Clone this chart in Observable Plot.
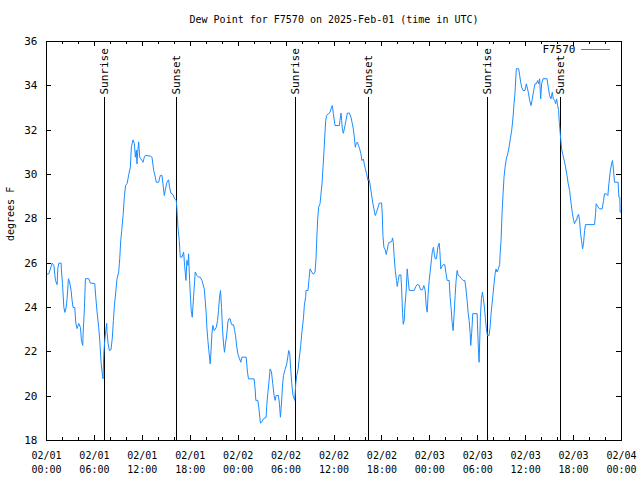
<!DOCTYPE html>
<html>
<head>
<meta charset="utf-8">
<script src="https://cdn.jsdelivr.net/npm/d3@7"></script>
<script src="https://cdn.jsdelivr.net/npm/@observablehq/plot@0.6"></script>
<style>
  body { margin: 0; background: #fff; }
  #chart svg { display: block; }
</style>
</head>
<body>
<div id="chart"></div>
<script>
// ---- text ----
const title = "Dew Point for F7570 on 2025-Feb-01 (time in UTC)";
const yLabel = "degrees F";
const seriesName = "F7570";

// ---- time axis ----
const startTime = "2025-02-01T00:00:00Z";
const endTime = "2025-02-04T00:00:00Z";
const xTicks = ["2025-02-01T00:00Z","2025-02-01T06:00Z","2025-02-01T12:00Z","2025-02-01T18:00Z",
  "2025-02-02T00:00Z","2025-02-02T06:00Z","2025-02-02T12:00Z","2025-02-02T18:00Z",
  "2025-02-03T00:00Z","2025-02-03T06:00Z","2025-02-03T12:00Z","2025-02-03T18:00Z","2025-02-04T00:00Z"];
const yTicks = [18, 20, 22, 24, 26, 28, 30, 32, 34, 36];

// ---- sunrise / sunset ----
const eventNames = ["Sunrise", "Sunset", "Sunrise", "Sunset", "Sunrise", "Sunset"];
const eventTimes = ["2025-02-01T07:15Z", "2025-02-01T16:18Z", "2025-02-02T07:14Z",
  "2025-02-02T16:19Z", "2025-02-03T07:13Z", "2025-02-03T16:20Z"];

// ---- series: hours after start, dew point (F) ----
const hours = [
  0.0,0.29,0.71,0.92,1.125,1.33,1.42,1.54,1.83,1.87,2.0,2.17,2.29,2.46,2.58,2.75,2.92,3.08,3.21,3.33,3.54,3.67,3.83,4.04,4.25,4.375,4.54,4.58,4.75,4.875,5.29,5.5,6.04,6.17,6.33,6.54,6.67,6.83,6.96,7.08,7.17,7.29,7.42,7.54,7.58,7.71,7.875,8.08,8.25,8.375,8.5,8.67,8.83,9.04,9.17,9.29,9.42,
  9.6,9.75,9.9,10.1,10.3,
  10.5,10.625,10.83,11.0,11.125,11.25,11.33,11.42,11.54,11.67,11.96,12.08,12.25,12.375,13.0,13.21,13.42,13.625,13.75,14.04,14.25,14.46,14.58,14.75,14.875,15.08,15.29,15.42,15.58,15.83,16.04,16.25,16.33,16.46,16.625,16.75,16.96,17.17,17.29,17.46,17.58,17.71,17.79,17.92,18.0,18.125,18.25,18.42,18.625,18.83,19.04,19.25,19.46,19.58,19.75,19.875,20.0,20.08,20.21,20.33,20.5,20.58,20.71,20.83,21.0,21.25,21.42,21.54,21.67,21.79,21.92,22.04,22.17,22.29,22.42,22.58,22.71,22.83,23.0,
  23.125,23.21,23.42,23.54,23.67,23.83,23.96,24.17,24.33,24.46,25.0,25.17,25.29,26.0,26.125,26.21,26.46,26.58,26.71,26.79,26.96,27.17,27.5,27.58,27.71,27.875,28.0,28.17,28.33,28.5,28.625,28.75,29.04,29.17,29.29,29.42,29.54,29.67,29.875,30.08,30.21,30.33,30.46,30.58,30.71,30.875,31.08,31.21,31.33,31.5,31.67,31.83,32.0,32.17,32.29,32.46,32.5,32.75,32.875,33.0,33.21,33.42,33.625,33.75,33.83,
  33.96,34.08,34.25,34.375,34.5,34.625,34.75,34.875,34.96,35.08,35.29,35.5,35.625,35.79,35.92,36.125,36.67,36.75,36.875,36.96,37.04,37.17,37.375,37.5,37.67,37.92,38.125,38.25,38.42,38.54,38.67,38.79,38.92,39.08,39.21,39.375,39.5,39.67,39.79,39.92,40.08,40.25,40.375,40.5,40.625,40.75,40.875,41.0,41.17,41.33,41.5,41.67,41.83,
  41.96,42.04,42.125,42.25,42.42,42.54,42.67,42.79,42.92,43.125,43.25,43.33,43.42,43.54,43.67,43.83,43.92,44.04,44.17,44.375,44.46,44.58,44.67,44.79,44.875,45.04,45.17,45.25,45.42,46.04,46.25,46.42,46.67,46.83,47.08,47.25,47.42,47.54,47.67,47.79,47.92,48.08,48.21,48.33,48.46,48.54,48.67,48.83,49.0,49.17,49.25,49.375,49.5,49.67,49.875,50.0,50.17,50.42,50.54,50.67,50.79,50.92,51.04,51.17,51.29,51.42,51.54,51.75,51.96,52.17,52.375,52.5,52.67,52.79,52.92,53.04,53.125,53.25,53.375,53.92,54.0,54.08,54.17,54.25,54.33,54.46,54.58,54.71,54.83,54.96,55.08,55.21,55.42,55.54,55.67,55.79,55.92,56.04,56.17,56.29,56.42,56.58,56.75,
  56.79,56.92,57.04,57.17,57.29,57.42,57.58,57.75,57.92,58.08,58.25,58.42,58.54,58.67,58.83,59.125,59.25,59.375,59.5,59.67,59.92,60.08,60.21,60.33,60.5,60.67,60.83,61.0,61.17,61.33,61.5,61.625,61.75,61.875,62.0,62.17,62.67,62.83,63.0,63.17,63.33,63.46,63.625,63.75,63.875,64.0,64.125,64.21,64.33,64.5,64.67,64.83,65.0,65.17,65.33,65.5,65.67,65.83,66.0,66.125,66.25,66.375,66.5,66.625,66.75,66.875,67.0,67.125,67.25,67.375,67.5,68.625,68.75,68.83,69.04,69.25,69.58,69.75,69.875,70.08,70.29,70.42,70.58,70.75,70.875,71.0,71.125,71.58,71.67,71.79,71.83,72.0
];
const dewPoint = [
  25.5,25.52,26.0,25.9,25.22,25.03,25.76,26.0,26.0,25.7,25.08,24.02,23.78,24.0,24.4,25.3,25.1,24.77,24.3,24.0,24.0,23.3,23.05,23.28,23.1,22.5,22.29,22.8,23.96,25.3,25.3,25.1,25.08,24.47,23.8,23.1,22.5,21.54,21.08,20.78,21.88,22.5,22.96,23.28,22.9,22.38,22.06,22.1,22.66,23.41,24.09,24.69,25.3,25.6,26.2,27.0,27.47,
  28.2,29.0,29.5,29.6,30.0,
  30.33,31.23,31.56,31.4,30.78,31.1,30.48,31.0,31.47,30.78,30.63,30.55,30.78,30.86,30.83,30.78,30.18,29.88,29.65,29.65,29.96,29.96,29.58,29.05,29.3,29.65,29.76,29.4,29.16,29.1,28.9,28.83,28.45,27.62,27.02,26.27,26.27,26.5,25.9,25.22,26.12,25.9,26.42,25.22,24.62,23.87,23.56,24.5,25.6,25.45,25.37,25.37,25.22,25.07,24.85,24.32,23.72,23.11,22.51,22.06,21.46,21.9,22.81,23.19,22.96,23.1,23.41,23.87,24.47,24.77,24.0,23.0,22.36,21.98,22.4,22.81,23.34,23.49,23.49,
  23.3,23.22,23.22,23.0,22.74,22.21,21.91,21.69,21.53,21.76,21.76,21.08,20.78,20.78,20.33,19.81,19.81,19.5,19.05,18.78,18.85,18.98,19.05,19.58,20.11,20.71,21.23,21.1,20.56,20.03,19.81,20.03,20.03,19.65,19.05,19.65,20.41,20.93,21.2,21.46,21.76,22.06,21.9,21.23,20.56,20.03,19.81,20.56,20.93,21.2,21.76,22.29,22.96,23.5,24.1,24.5,24.77,24.77,25.3,25.74,25.6,25.5,25.6,26.2,27.0,
  28.0,28.53,28.68,29.13,29.58,30.33,31.08,31.91,32.44,32.66,32.74,32.8,32.96,33.11,32.74,32.21,32.21,32.44,32.77,32.44,32.06,31.86,32.2,32.44,32.77,32.77,32.59,32.36,32.06,31.69,31.23,31.4,31.46,31.3,31.16,30.93,30.63,30.7,30.48,30.26,30.03,29.73,29.8,29.58,29.28,28.98,28.68,28.45,28.15,28.3,28.5,28.71,28.71,
  28.72,28.23,27.25,26.72,26.6,26.39,26.6,26.84,26.95,26.95,27.0,27.14,26.95,26.27,25.67,25.22,24.95,25.22,25.47,25.47,24.92,23.79,23.24,23.4,24.02,24.77,25.74,25.4,24.77,24.77,24.95,25.04,25.0,24.8,24.8,24.99,24.77,24.09,23.79,24.62,25.22,25.74,26.2,26.57,26.72,26.45,26.2,26.2,26.72,26.9,26.57,25.74,25.85,25.93,25.93,25.6,25.22,25.22,24.47,23.94,23.34,22.96,23.7,24.54,25.22,25.67,25.45,25.4,25.3,25.22,25.22,24.92,24.32,23.79,23.41,22.89,22.29,22.89,23.72,23.72,22.9,22.14,21.53,22.5,23.56,24.4,24.69,24.4,24.02,23.49,23.04,22.74,22.74,23.1,23.72,24.17,24.62,25.07,25.52,25.74,25.6,25.74,25.95,
  26.35,27.02,28.23,29.13,29.88,30.33,30.71,30.93,31.23,31.61,31.99,32.59,33.19,33.71,34.77,34.77,34.47,34.16,33.94,33.79,33.79,34.09,33.9,33.71,33.34,33.11,33.4,33.79,34.09,34.09,34.24,34.09,34.32,33.41,34.09,34.32,34.32,33.94,33.56,33.41,33.71,33.41,33.34,33.2,33.41,33.11,32.89,32.36,31.84,31.16,30.86,30.63,30.33,29.96,29.58,29.28,28.75,28.3,27.93,27.78,27.93,27.93,28.15,28.2,27.93,27.33,27.02,26.65,26.9,27.47,27.74,27.74,28.23,28.68,28.55,28.45,28.45,28.83,29.13,29.13,29.05,29.58,30.11,30.48,30.63,30.2,29.65,29.65,28.98,28.98,28.3,28.3
];

// ---- build ----
const W = 640, H = 480, mL = 46, mR = 19, mT = 41, mB = 40;
const fw = W - mL - mR, fh = H - mT - mB;
const t0 = new Date(startTime).getTime();
const data = hours.map((h, i) => ({time: new Date(t0 + h * 3600e3), value: dewPoint[i]}));
const events = eventNames.map((n, i) => ({name: n, time: new Date(eventTimes[i])}));
const xt = xTicks.map(s => new Date(s));
const xMinor = d3.utcHour.every(2).range(new Date(startTime), new Date(endTime));
const fmtD = d3.utcFormat("%m/%d"), fmtT = d3.utcFormat("%H:%M");
const lineColor = "#1a8cff";

const chart = Plot.plot({
  width: W, height: H,
  marginLeft: mL, marginRight: mR, marginTop: mT, marginBottom: mB,
  style: {fontFamily: "'DejaVu Sans Mono', monospace", fontSize: "10px", background: "#fff", color: "#000"},
  x: {type: "utc", domain: [new Date(startTime), new Date(endTime)]},
  y: {domain: [18, 36]},
  marks: [
    // minor / major ticks (inward, top & bottom)
    Plot.ruleX(xMinor, {x: d => d, insetTop: fh - 3, stroke: "#000", shapeRendering: "crispEdges"}),
    Plot.ruleX(xMinor, {x: d => d, insetBottom: fh - 3, stroke: "#000", shapeRendering: "crispEdges"}),
    Plot.ruleX(xt, {x: d => d, insetTop: fh - 5, stroke: "#000", shapeRendering: "crispEdges"}),
    Plot.ruleX(xt, {x: d => d, insetBottom: fh - 5, stroke: "#000", shapeRendering: "crispEdges"}),
    Plot.ruleY(yTicks, {y: d => d, insetRight: fw - 5, stroke: "#000", shapeRendering: "crispEdges"}),
    Plot.ruleY(yTicks, {y: d => d, insetLeft: fw - 5, stroke: "#000", shapeRendering: "crispEdges"}),
    // sunrise / sunset
    Plot.ruleX(events, {x: "time", insetTop: 56, stroke: "#000", shapeRendering: "crispEdges"}),
    Plot.text(events, {x: "time", text: "name", frameAnchor: "top", dy: 53, rotate: -90,
      textAnchor: "start", lineAnchor: "middle", fill: "#000", fontSize: 11}),
    // data line
    Plot.lineY(data, {x: "time", y: "value", stroke: lineColor, strokeWidth: 1, curve: "linear"}),
    Plot.frame({stroke: "#000", shapeRendering: "crispEdges"}),
    // axes labels
    Plot.axisY(yTicks, {tickSize: 0, tickPadding: 9, label: null, fontSize: 11}),
    Plot.axisX(xt, {tickSize: 0, tickPadding: 9, label: null, lineHeight: 1.4,
      tickFormat: d => fmtD(d) + "\n" + fmtT(d)}),
    // title, y label, legend text
    Plot.text([title], {text: d => d, frameAnchor: "top", dy: -22, lineAnchor: "middle", fill: "#000"}),
    Plot.text([yLabel], {text: d => d, frameAnchor: "left", dx: -36, rotate: -90, fill: "#000"}),
    Plot.text([seriesName], {text: d => d, frameAnchor: "top-right", dx: -46, dy: 8, textAnchor: "end",
      lineAnchor: "middle", fill: "#000", fontSize: 11})
  ]
});

// legend line sample
d3.select(chart).append("line")
  .attr("x1", W - mR - 40).attr("x2", W - mR - 11)
  .attr("y1", mT + 8.5).attr("y2", mT + 8.5)
  .attr("stroke", lineColor).attr("stroke-width", 1);

document.getElementById("chart").appendChild(chart);
</script>
</body>
</html>
